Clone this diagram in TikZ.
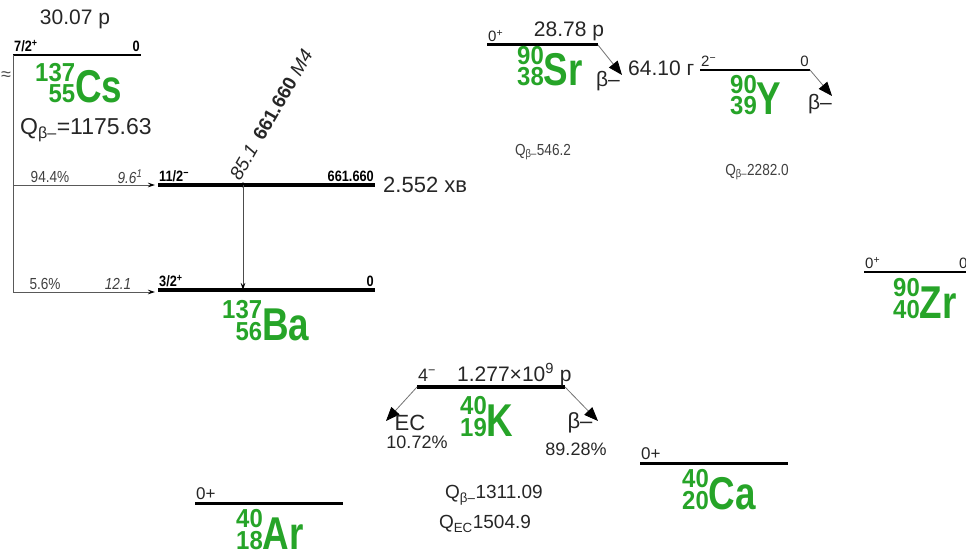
\documentclass[tikz,border=0pt]{standalone}
\usepackage{fontspec}
\setmainfont{Liberation Sans}
\newfontfamily\narrowfont[FakeStretch=0.85]{Liberation Sans}
\newfontfamily\nucfont[FakeStretch=0.8]{Liberation Sans}
\newfontfamily\nucnum[FakeStretch=0.92]{Liberation Sans}
\usetikzlibrary{calc,positioning,arrows.meta}
\definecolor{nucgreen}{RGB}{38,164,40}

% stacked mass / atomic number before the element symbol
\newcommand{\nuc}[3]{{\nucnum\bfseries\fontsize{26}{20.5}\selectfont\begin{tabular}[b]{@{}r@{}}#1\\[-3pt]#2\end{tabular}}{\fontsize{46}{46}\selectfont#3}}

\begin{document}
\begin{tikzpicture}[x=1pt, y=-1pt,
    level/.style={line width=3pt},
    feed/.style={draw=black!65, line width=0.8pt, -{Stealth[length=7pt,width=4.5pt,color=black,fill=black]}, shorten >=3pt},
    decay/.style={draw=black!55, line width=0.8pt, -{Triangle[length=14pt,width=11pt,color=black,fill=black]}},
    lbl/.style={inner sep=0pt, text=black!85, font=\fontsize{21}{21}\selectfont},
    tiny/.style={inner sep=0pt, text=black!75, font=\narrowfont\fontsize{16}{16}\selectfont},
    spin/.style={inner sep=1pt, font=\narrowfont\bfseries\fontsize{15}{15}\selectfont},
    zero/.style={inner sep=1pt, text=black!85, font=\fontsize{15}{15}\selectfont},
    nuc/.style={inner sep=0pt, text=nucgreen, font=\nucfont\bfseries, anchor=base west}]
    \useasboundingbox (0,0) rectangle (966,553);

    % Cs-137
    \coordinate (csL) at (13,55);
    \coordinate (csR) at (141,55);
    \draw[level, line width=2.5pt] (csL) -- (csR);
    \node[spin, above right=2pt and 0pt of csL] (csj) {7/2\textsuperscript{+}};
    \node[spin, above left=2pt and 0pt of csR] (cse) {0};
    \node[lbl] (cst) at (75,19) {30.07 р};
    \node[lbl, text=black!70, font=\fontsize{18}{18}\selectfont] (approx) at (6,76) {≈};
    \node[nuc] (cs) at (35,103) {\nuc{137}{55}{Cs}};
    \node[lbl, anchor=base west, font=\fontsize{23}{23}\selectfont] (csq) at (20,135) {Q\textsubscript{β–}=1175.63};

    % Ba-137
    \coordinate (baaL) at (158,185);
    \coordinate (baaR) at (375,185);
    \coordinate (babL) at (158,290);
    \coordinate (babR) at (375,290);
    \draw[level, line width=3.5pt] (baaL) -- (baaR);
    \draw[level, line width=3.5pt] (babL) -- (babR);
    \node[spin, above right=2pt and 0pt of baaL] (baaj) {11/2\textsuperscript{−}};
    \node[spin, above left=2pt and 0pt of baaR] (baae) {661.660};
    \node[spin, above right=2pt and 0pt of babL] (babj) {3/2\textsuperscript{+}};
    \node[spin, above left=2pt and 0pt of babR] (babe) {0};
    \node[lbl, right=8pt of baaR, font=\fontsize{22}{22}\selectfont] (bat) {2.552 хв};
    \node[nuc] (ba) at (222,340) {\nuc{137}{56}{Ba}};

    % feeding from Cs
    \coordinate (fa) at (13,185);
    \coordinate (fb) at (13,292);
    \draw[draw=black!65, line width=0.8pt] (csL) -- (fb);
    \draw[feed] (fa) -- (baaL);
    \draw[feed] (fb) -- (babL |- fb);
    \node[tiny] (fap) at (50,177) {94.4\%};
    \node[tiny, font=\narrowfont\itshape\fontsize{16}{16}\selectfont] (fal) at (130,177) {9.6\textsuperscript{1}};
    \node[tiny] (fbp) at (45,284) {5.6\%};
    \node[tiny, font=\narrowfont\itshape\fontsize{16}{16}\selectfont] (fbl) at (118,284) {12.1};

    % gamma
    \coordinate (ga) at (243,185);
    \coordinate (gb) at (243,290);
    \fill (ga) circle (2.5);
    \draw[draw=black!70, line width=0.8pt, -{Stealth[length=7pt,width=4.5pt,color=black,fill=black]}] (ga) -- (gb);
    \node[inner sep=0pt, rotate=60, anchor=base west, text=black!85, font=\fontsize{19}{19}\selectfont] (gl) at (240,182) {\textit{85.1}\hspace{0.5em}\textbf{661.660} \textit{M4}};

    % Sr-90
    \coordinate (srL) at (487,45);
    \coordinate (srR) at (598,45);
    \draw[level] (srL) -- (srR);
    \node[zero, above right=2pt and 0pt of srL] (srj) {0\textsuperscript{+}};
    \node[lbl, anchor=base] (srt) at (569,37) {28.78 р};
    \node[nuc] (sr) at (517,86) {\nuc{90}{38}{Sr}};
    \coordinate (srB) at (622,75);
    \draw[decay] (srR) -- (srB);
    \node[lbl] (srb) at (608,81) {β–};
    \node[tiny] (srq) at (543,152) {Q\textsubscript{β–}546.2};

    % Y-90
    \coordinate (yL) at (700,70);
    \coordinate (yR) at (810,70);
    \draw[level, line width=2.5pt] (yL) -- (yR);
    \node[zero, above right=2pt and 0pt of yL] (yj) {2\textsuperscript{−}};
    \node[zero, above left=2pt and 0pt of yR] (ye) {0};
    \node[lbl, anchor=base west] (yt) at (628,76) {64.10 г};
    \node[nuc] (y) at (730,115) {\nuc{90}{39}{Y}};
    \coordinate (yB) at (832,96);
    \draw[decay] (yR) -- (yB);
    \node[lbl] (yb) at (820,104) {β–};
    \node[tiny] (yq) at (757,172) {Q\textsubscript{β–}2282.0};

    % Zr-90
    \coordinate (zrL) at (864,272);
    \coordinate (zrR) at (966,272);
    \draw[level, line width=2.5pt] (zrL) -- (zrR);
    \node[zero, above right=2pt and 0pt of zrL] (zrj) {0\textsuperscript{+}};
    \node[zero, anchor=south west] (zre) at (958,270) {0};
    \node[nuc] (zr) at (893,318) {\nuc{90}{40}{Zr}};

    % K-40
    \coordinate (kL) at (417,387);
    \coordinate (kR) at (565,387);
    \draw[level, line width=3.5pt] (kL) -- (kR);
    \node[lbl, anchor=base west, font=\fontsize{18}{18}\selectfont] (kj) at (418,381) {4\textsuperscript{−}};
    \node[lbl, anchor=base west] (kt) at (457,381) {1.277×10\textsuperscript{9} р};
    \node[nuc] (k) at (460,436) {\nuc{40}{19}{K}};
    \coordinate (kE) at (386,421);
    \coordinate (kB) at (598,421);
    \draw[decay] (kL) -- (kE);
    \draw[decay] (kR) -- (kB);
    \node[lbl, font=\fontsize{22}{22}\selectfont] (ec) at (410,423) {EC};
    \node[lbl, font=\fontsize{18}{18}\selectfont] (ecp) at (417,442) {10.72\%};
    \node[lbl, font=\fontsize{22}{22}\selectfont] (kb) at (580,423) {β–};
    \node[lbl, font=\fontsize{18}{18}\selectfont] (kbp) at (576,449) {89.28\%};
    \node[lbl, font=\fontsize{19}{19}\selectfont] (kqb) at (494,495) {Q\textsubscript{β–}1311.09};
    \node[lbl, font=\fontsize{19}{19}\selectfont] (kqe) at (485,524) {Q\textsubscript{EC}1504.9};

    % Ar-40
    \coordinate (arL) at (195,503);
    \coordinate (arR) at (343,503);
    \draw[level] (arL) -- (arR);
    \node[zero, above right=2pt and 0pt of arL, font=\fontsize{17}{17}\selectfont] (arj) {0+};
    \node[nuc] (ar) at (236,549) {\nuc{40}{18}{Ar}};

    % Ca-40
    \coordinate (caL) at (640,463);
    \coordinate (caR) at (788,463);
    \draw[level] (caL) -- (caR);
    \node[zero, above right=2pt and 0pt of caL, font=\fontsize{17}{17}\selectfont] (caj) {0+};
    \node[nuc] (ca) at (682,509) {\nuc{40}{20}{Ca}};
\end{tikzpicture}
\end{document}
